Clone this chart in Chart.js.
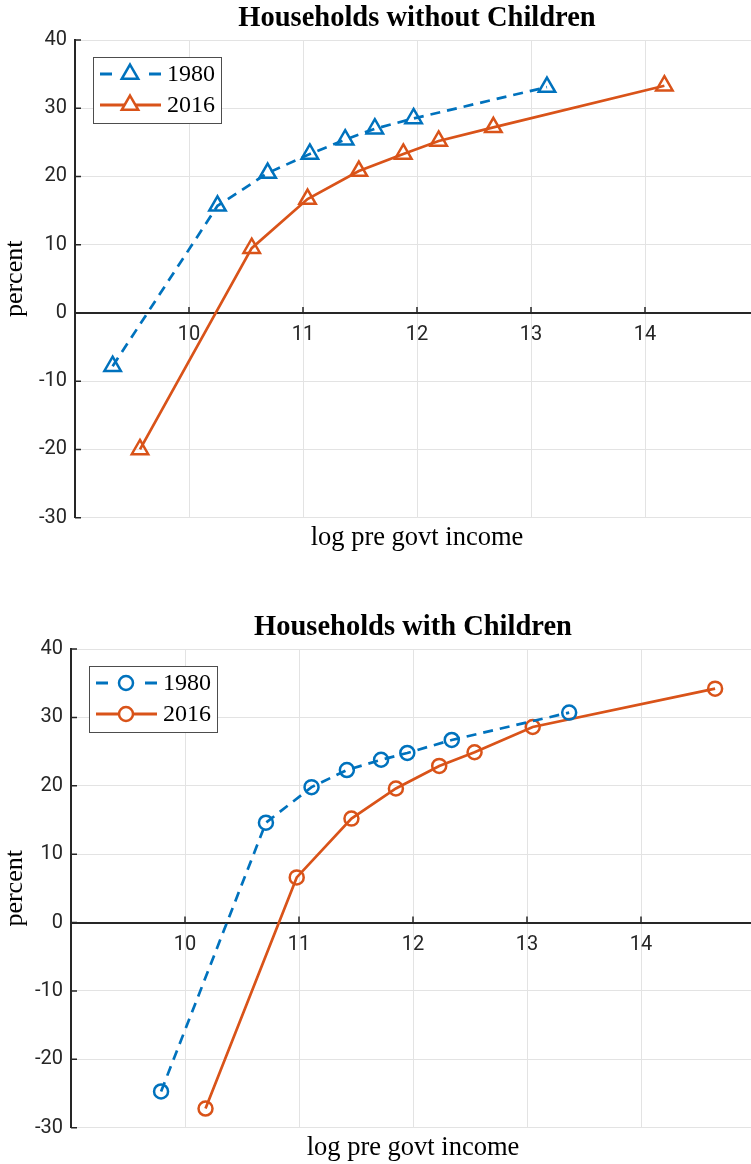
<!DOCTYPE html>
<html>
<head>
<meta charset="utf-8">
<script src="https://cdn.jsdelivr.net/npm/chart.js@4.4.1/dist/chart.umd.min.js"></script>
<style>
    body { margin: 0; background: #fff; overflow: hidden; }
    #quadro { width: 751px; height: 1164px; overflow: hidden; position: relative; }
    canvas { display: block; }
</style>
</head>
<body>
<div id="quadro">
    <canvas id="graficoSem" width="759" height="580"></canvas>
    <canvas id="graficoCom" width="755" height="584"></canvas>
</div>
<script>
const anos = ["1980", "2016"];
const ticksX = [10, 11, 12, 13, 14];
const ticksY = [-30, -20, -10, 0, 10, 20, 30, 40];

// Households without Children
const semX1980 = [9.33, 10.25, 10.69, 11.06, 11.37, 11.63, 11.97, 13.14];
const semY1980 = [-7.8, 15.7, 20.5, 23.3, 25.4, 27.0, 28.5, 33.1];
const semX2016 = [9.57, 10.55, 11.04, 11.49, 11.88, 12.19, 12.67, 14.17];
const semY2016 = [-20.0, 9.5, 16.7, 20.8, 23.3, 25.2, 27.2, 33.3];

// Households with Children
const comX1980 = [9.79, 10.71, 11.11, 11.42, 11.72, 11.95, 12.34, 13.37];
const comY1980 = [-24.7, 14.6, 19.8, 22.3, 23.8, 24.8, 26.7, 30.7];
const comX2016 = [10.18, 10.98, 11.46, 11.85, 12.23, 12.54, 13.05, 14.65];
const comY2016 = [-27.2, 6.6, 15.2, 19.6, 22.9, 24.9, 28.6, 34.2];

const azul = "#0072BD";
const laranja = "#D95319";
const escuro = "#262626";
const grade = "#e3e3e3";

Chart.defaults.font.family = "Roboto, 'Liberation Sans', sans-serif";
Chart.defaults.color = escuro;

const pares = (xs, ys) => xs.map((x, i) => ({ x: x, y: ys[i] }));

// o eixo x vai ate a borda direita do canvas (no original ele e cortado)
const esticarArea = {
    id: "esticarArea",
    afterLayout(chart) {
        const x = chart.scales.x;
        chart.chartArea.right = chart.width;
        chart.chartArea.width = chart.width - chart.chartArea.left;
        x.right = chart.width;
        x.width = x.right - x.left;
        x.configure();

        // titulo e rotulo do eixo x centrados na area estendida
        chart.boxes.forEach(box => {
            if (box.axis || box.fullSize) return;
            if (box.options && (box.options.position === "top" || box.options.position === "bottom")) {
                box.right = chart.width;
                box.width = box.right - box.left;
            }
        });
    }
};

// legenda desenhada dentro do grafico
const legendaInterna = {
    id: "legendaInterna",
    afterDatasetsDraw(chart) {
        const { ctx, chartArea } = chart;
        const x0 = chartArea.left + 18;
        const y0 = chartArea.top + 17;

        ctx.save();
        ctx.fillStyle = "#fff";
        ctx.fillRect(x0, y0, 128, 66);
        ctx.strokeStyle = "#4d4d4d";
        ctx.lineWidth = 1;
        ctx.strokeRect(x0 + 0.5, y0 + 0.5, 128, 66);

        chart.data.datasets.forEach((ds, i) => {
            const yy = y0 + 17 + i * 31;

            ctx.strokeStyle = ds.borderColor;
            ctx.lineWidth = 3;
            ctx.setLineDash(ds.borderDash && ds.borderDash.length ? [12, 37] : []);
            ctx.beginPath();
            ctx.moveTo(x0 + 7, yy);
            ctx.lineTo(x0 + 68, yy);
            ctx.stroke();
            ctx.setLineDash([]);

            ctx.fillStyle = "#fff";
            ctx.strokeStyle = ds.borderColor;
            ctx.lineWidth = 2.5;
            Chart.helpers.drawPoint(ctx, {
                pointStyle: ds.pointStyle,
                radius: ds.pointRadius,
                borderWidth: 2.5,
                rotation: 0
            }, x0 + 37, yy);

            ctx.fillStyle = "#000";
            ctx.font = "24px 'Liberation Serif', serif";
            ctx.textBaseline = "middle";
            ctx.textAlign = "left";
            ctx.fillText(ds.label, x0 + 74, yy + 1);
        });
        ctx.restore();
    }
};

// marcas de tick para dentro, como no original
const marcasInternas = {
    id: "marcasInternas",
    beforeDatasetsDraw(chart) {
        const { ctx, chartArea, scales } = chart;
        const y0 = scales.y.getPixelForValue(0);
        ctx.save();
        ctx.strokeStyle = escuro;
        ctx.lineWidth = 1.5;
        ctx.beginPath();
        ticksY.forEach(v => {
            const py = scales.y.getPixelForValue(v);
            ctx.moveTo(chartArea.left, py);
            ctx.lineTo(chartArea.left + 6, py);
        });
        ticksX.forEach(v => {
            const px = scales.x.getPixelForValue(v);
            ctx.moveTo(px, y0);
            ctx.lineTo(px, y0 - 6);
        });
        ctx.stroke();
        ctx.restore();
    }
};

function criarGrafico(id, titulo, marcador, raio, serie1980, serie2016, layout) {

    const ctx = document.getElementById(id).getContext("2d");

    return new Chart(ctx, {

        type: "line",

        data: {
            datasets: [{
                label: anos[0],
                data: serie1980,
                borderColor: azul,
                borderWidth: 2.7,
                borderDash: [10, 7],
                pointStyle: marcador,
                pointRadius: raio,
                pointBorderWidth: 2.5,
                pointBorderColor: azul,
                pointBackgroundColor: "rgba(0,0,0,0)",
                tension: 0
            }, {
                label: anos[1],
                data: serie2016,
                borderColor: laranja,
                borderWidth: 2.7,
                pointStyle: marcador,
                pointRadius: raio,
                pointBorderWidth: 2.5,
                pointBorderColor: laranja,
                pointBackgroundColor: "rgba(0,0,0,0)",
                tension: 0
            }]
        },

        options: {
            responsive: false,
            animation: false,
            layout: {
                padding: { top: layout.topo, bottom: layout.base, left: 0, right: 0 }
            },
            plugins: {
                legend: { display: false },
                tooltip: { enabled: false },
                title: {
                    display: true,
                    text: titulo,
                    fullSize: false,
                    color: "#000",
                    font: { family: "'Liberation Serif', serif", size: 28.5, weight: "bold" },
                    padding: { top: 0, bottom: 4.2 }
                },
                subtitle: {
                    display: true,
                    text: "log pre govt income",
                    position: "bottom",
                    fullSize: false,
                    color: "#000",
                    font: { family: "'Liberation Serif', serif", size: 26.5, weight: "normal" },
                    padding: { top: 4.1, bottom: 0 }
                }
            },
            scales: {
                x: {
                    type: "linear",
                    position: { y: 0 },
                    min: 9,
                    max: 15,
                    afterBuildTicks: scale => {
                        scale.ticks = ticksX.map(v => ({ value: v }));
                    },
                    grid: { color: grade, lineWidth: 1, drawTicks: false },
                    border: { display: true, color: escuro, width: 2 },
                    ticks: { padding: 10, font: { size: 20 }, color: escuro }
                },
                y: {
                    type: "linear",
                    min: -30,
                    max: 40,
                    afterBuildTicks: scale => {
                        scale.ticks = ticksY.map(v => ({ value: v }));
                    },
                    afterFit: scale => {
                        scale.width = layout.esquerda;
                    },
                    grid: {
                        color: c => c.tick && c.tick.value === 0 ? escuro : grade,
                        lineWidth: c => c.tick && c.tick.value === 0 ? 2 : 1,
                        drawTicks: false
                    },
                    border: { display: true, color: escuro, width: 2 },
                    ticks: { padding: 8, font: { size: 20 }, color: escuro },
                    title: {
                        display: true,
                        text: "percent",
                        color: "#000",
                        font: { family: "'Liberation Serif', serif", size: 26 },
                        padding: { top: 0, bottom: 0 }
                    }
                }
            }
        },

        plugins: [esticarArea, marcasInternas, legendaInterna]
    });
}

criarGrafico("graficoSem", "Households without Children", "triangle", 9.5,
    pares(semX1980, semY1980), pares(semX2016, semY2016),
    { topo: 1.6, base: 26.4, esquerda: 75 });

criarGrafico("graficoCom", "Households with Children", "circle", 7,
    pares(comX1980, comY1980), pares(comX2016, comY2016),
    { topo: 30.6, base: 0.4, esquerda: 71 });
</script>
</body>
</html>
